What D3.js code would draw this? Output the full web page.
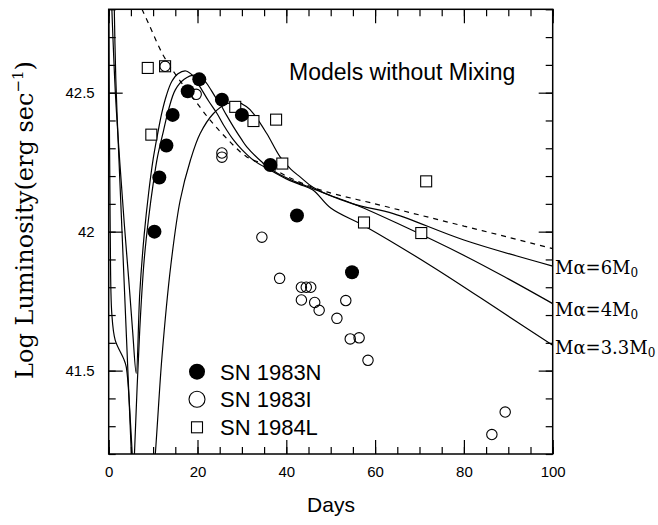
<!DOCTYPE html>
<html>
<head>
<meta charset="utf-8">
<script src="https://cdn.jsdelivr.net/npm/d3@7/dist/d3.min.js"></script>
<style>
  html, body { margin: 0; padding: 0; background: #fff; }
  svg { display: block; }
</style>
</head>
<body>
<svg id="chart" width="658" height="525"></svg>
<script>
// ---------------- DATA ----------------
const xTicksMinor = d3.range(0, 101, 5);
const xTicksMajor = [0, 20, 40, 60, 80, 100];
const yTicksMinor = d3.range(41.2, 42.81, 0.1).map(v => +v.toFixed(1));
const yTicksMajor = [41.5, 42, 42.5];

// SN 1983N (filled circles): [day, log L]
const sn1983N = [[10.3,42.0],[11.4,42.195],[13.0,42.31],[14.4,42.42],[17.8,42.505],[20.4,42.548],
  [25.5,42.475],[30.0,42.42],[36.4,42.24],[42.4,42.058],[54.8,41.854]];
// SN 1983I (open circles)
const sn1983I = [[12.7,42.595],[19.7,42.494],[25.5,42.283],[25.5,42.268],[34.5,41.98],[38.5,41.832],
  [43.4,41.80],[44.5,41.80],[45.5,41.80],[43.4,41.754],[46.4,41.745],[47.4,41.717],[51.4,41.688],
  [53.4,41.752],[54.4,41.614],[56.4,41.618],[58.4,41.537],[89.3,41.351],[86.3,41.270]];
// SN 1984L (open squares)
const sn1984L = [[8.8,42.589],[12.7,42.595],[9.6,42.349],[28.5,42.449],[32.6,42.398],[37.7,42.403],
  [39.1,42.245],[71.5,42.181],[57.5,42.033],[70.4,41.995]];

// Model light curves
const modelMa33 = [[0.6,42.85],[1.5,42.5],[2.5,42.25],[3.5,42.03],[4.5,41.83],[5.4,41.64],[6.2,41.49],
  [7.0,41.78],[8.0,41.99],[9.0,42.14],[10.0,42.26],[11.0,42.35],[12.0,42.43],[13.0,42.49],[14.2,42.54],
  [15.6,42.568],[17.4,42.578],[19.0,42.56],[20.6,42.52],[22.5,42.47],[24.4,42.425],[26.0,42.38],
  [28.1,42.33],[30.0,42.295],[32.6,42.257],[36.4,42.221],[40.0,42.19],[43.0,42.17],[46.0,42.15],
  [50.0,42.085],[58.0,42.017],[73.0,41.873],[88.0,41.717],[100,41.591]];
const modelMa4 = [[1.2,42.85],[1.6,42.55],[2.2,42.3],[3.0,42.0],[4.0,41.62],[5.1,41.2],[5.45,41.05],
  [5.8,41.2],[7.0,41.65],[8.0,41.9],[9.0,42.05],[10.0,42.17],[11.0,42.27],[12.3,42.36],[13.5,42.44],
  [15.0,42.51],[17.0,42.548],[19.3,42.563],[21.0,42.553],[22.1,42.533],[24.0,42.485],[25.1,42.46],
  [26.5,42.42],[28.1,42.377],[30.0,42.33],[31.1,42.305],[34.9,42.245],[38.0,42.21],[42.0,42.18],
  [46.0,42.155],[50.0,42.13],[55.9,42.095],[65.0,42.03],[80.7,41.909],[90.0,41.83],[100,41.741]];
const modelMa6 = [[0.0,42.85],[0.15,42.4],[0.34,42.005],[0.7,41.705],[1.46,41.61],[3.33,41.544],
  [3.94,41.514],[5.0,41.286],[5.3,41.2],[7.5,40.6],[10.5,41.2],[12.0,41.55],[14.0,41.88],
  [16.1,42.113],[18.4,42.257],[20.6,42.353],[23.6,42.425],[26.6,42.46],[29.0,42.465],[31.0,42.45],
  [32.6,42.425],[35.6,42.353],[38.6,42.269],[41.0,42.225],[43.1,42.197],[46.0,42.16],[55.0,42.1],
  [64.1,42.065],[80.0,41.97],[100,41.876]];
// Dashed curve
const modelDashed = [[7.5,42.8],[9.0,42.748],[12.3,42.634],[15.7,42.551],[19.1,42.479],[22.9,42.40],
  [26.6,42.335],[31.1,42.269],[35.6,42.239],[40.0,42.2],[45.0,42.165],[49.1,42.143],[60.0,42.10],
  [70.0,42.06],[80.0,42.02],[90.0,41.98],[100,41.939]];

const curveLabels = [
  {name: "Mα=6M", sub: "0"},
  {name: "Mα=4M", sub: "0"},
  {name: "Mα=3.3M", sub: "0"}
];
const legendItems = ["SN 1983N", "SN 1983I", "SN 1984L"];

// ---------------- LAYOUT ----------------
const svg = d3.select("#chart");
const L = 108.7, R = 552.7, T = 9.3, B = 454;
const x = d3.scaleLinear().domain([0, 100]).range([L, R]);
const y = d3.scaleLinear().domain([41.2, 42.8]).range([B, T]);
const sans = "'Liberation Sans', Arial, Helvetica, sans-serif";
const serif = "'DejaVu Serif', 'Liberation Serif', serif";

svg.append("rect").attr("width", 658).attr("height", 525).attr("fill", "#fff");

const defs = svg.append("defs");
defs.append("clipPath").attr("id", "plotclip")
  .append("rect").attr("x", L).attr("y", T).attr("width", R - L).attr("height", B - T);

// axes
function styleAxis(g) {
  g.select(".domain").remove();
  g.selectAll(".tick line").attr("stroke", "#000").attr("stroke-width", 1.2);
  g.selectAll(".tick text").attr("fill", "#000").attr("font-family", sans).attr("font-size", 15);
}
svg.append("g").attr("transform", `translate(0,${B})`)
  .call(d3.axisBottom(x).tickValues(xTicksMinor).tickSize(-7).tickFormat(""))
  .call(styleAxis);
svg.append("g").attr("transform", `translate(0,${B})`)
  .call(d3.axisBottom(x).tickValues(xTicksMajor).tickSize(-14).tickPadding(12).tickFormat(d3.format("d")))
  .call(styleAxis);
svg.append("g").attr("transform", `translate(0,${T})`)
  .call(d3.axisTop(x).tickValues(xTicksMinor).tickSize(-7).tickFormat(""))
  .call(styleAxis);
svg.append("g").attr("transform", `translate(0,${T})`)
  .call(d3.axisTop(x).tickValues(xTicksMajor).tickSize(-14).tickFormat(""))
  .call(styleAxis);
svg.append("g").attr("transform", `translate(${L},0)`)
  .call(d3.axisLeft(y).tickValues(yTicksMinor).tickSize(-7).tickFormat(""))
  .call(styleAxis);
svg.append("g").attr("transform", `translate(${L},0)`)
  .call(d3.axisLeft(y).tickValues(yTicksMajor).tickSize(-14).tickPadding(14).tickFormat(d => d3.format("")(d)))
  .call(styleAxis);
svg.append("g").attr("transform", `translate(${R},0)`)
  .call(d3.axisRight(y).tickValues(yTicksMinor).tickSize(-7).tickFormat(""))
  .call(styleAxis);
svg.append("g").attr("transform", `translate(${R},0)`)
  .call(d3.axisRight(y).tickValues(yTicksMajor).tickSize(-14).tickFormat(""))
  .call(styleAxis);

svg.append("rect").attr("x", L).attr("y", T).attr("width", R - L).attr("height", B - T)
  .attr("fill", "none").attr("stroke", "#000").attr("stroke-width", 1.5);

// curves
const line = d3.line().x(d => x(d[0])).y(d => y(d[1])).curve(d3.curveCatmullRom.alpha(0.5));
const curves = svg.append("g").attr("clip-path", "url(#plotclip)");
[modelMa33, modelMa4, modelMa6].forEach(m => {
  curves.append("path").attr("d", line(m)).attr("fill", "none")
    .attr("stroke", "#000").attr("stroke-width", 1.2);
});
curves.append("path").attr("d", line(modelDashed)).attr("fill", "none")
  .attr("stroke", "#000").attr("stroke-width", 1.2).attr("stroke-dasharray", "5,5");

// points
const pts = svg.append("g");
pts.selectAll(".sq").data(sn1984L).join("rect")
  .attr("x", d => x(d[0]) - 5.5).attr("y", d => y(d[1]) - 5.5)
  .attr("width", 11).attr("height", 11)
  .attr("fill", "#fff").attr("stroke", "#000").attr("stroke-width", 1.1);
pts.selectAll(".oc").data(sn1983I).join("circle")
  .attr("cx", d => x(d[0])).attr("cy", d => y(d[1])).attr("r", 5.2)
  .attr("fill", "none").attr("stroke", "#000").attr("stroke-width", 1.1);
pts.selectAll(".fc").data(sn1983N).join("circle")
  .attr("cx", d => x(d[0])).attr("cy", d => y(d[1])).attr("r", 7)
  .attr("fill", "#000");

// title
svg.append("text").attr("x", 289).attr("y", 80).attr("font-family", sans).attr("font-size", 23)
  .attr("fill", "#000").text("Models without Mixing");

// curve labels
curveLabels.forEach((c, i) => {
  const yy = [268.3, 310, 348.3][i] + 6;
  const t = svg.append("text").attr("x", 555).attr("y", yy).attr("font-family", serif)
    .attr("font-size", 18).attr("fill", "#000");
  t.append("tspan").text(c.name);
  t.append("tspan").attr("font-size", 12).attr("dy", 3).text(c.sub);
});

// legend
const lg = svg.append("g");
const ly = [371.7, 399.3, 427.3];
lg.append("circle").attr("cx", 197).attr("cy", ly[0]).attr("r", 8).attr("fill", "#000");
lg.append("circle").attr("cx", 197).attr("cy", ly[1]).attr("r", 8).attr("fill", "none")
  .attr("stroke", "#000").attr("stroke-width", 1.1);
lg.append("rect").attr("x", 197 - 5.5).attr("y", ly[2] - 5.5).attr("width", 11).attr("height", 11)
  .attr("fill", "none").attr("stroke", "#000").attr("stroke-width", 1.1);
legendItems.forEach((s, i) => {
  lg.append("text").attr("x", 220).attr("y", ly[i] + 8).attr("font-family", sans)
    .attr("font-size", 22).attr("fill", "#000").text(s);
});

// axis titles
svg.append("text").attr("x", 331).attr("y", 512).attr("text-anchor", "middle")
  .attr("font-family", sans).attr("font-size", 21).attr("fill", "#000").text("Days");
const yt = svg.append("text").attr("transform", "translate(33,220) rotate(-90)")
  .attr("text-anchor", "middle").attr("font-family", serif).attr("font-size", 24).attr("fill", "#000");
yt.append("tspan").text("Log Luminosity(erg sec");
yt.append("tspan").attr("font-size", 15).attr("dy", -10).text("−1");
yt.append("tspan").attr("dy", 10).text(")");
</script>
</body>
</html>
